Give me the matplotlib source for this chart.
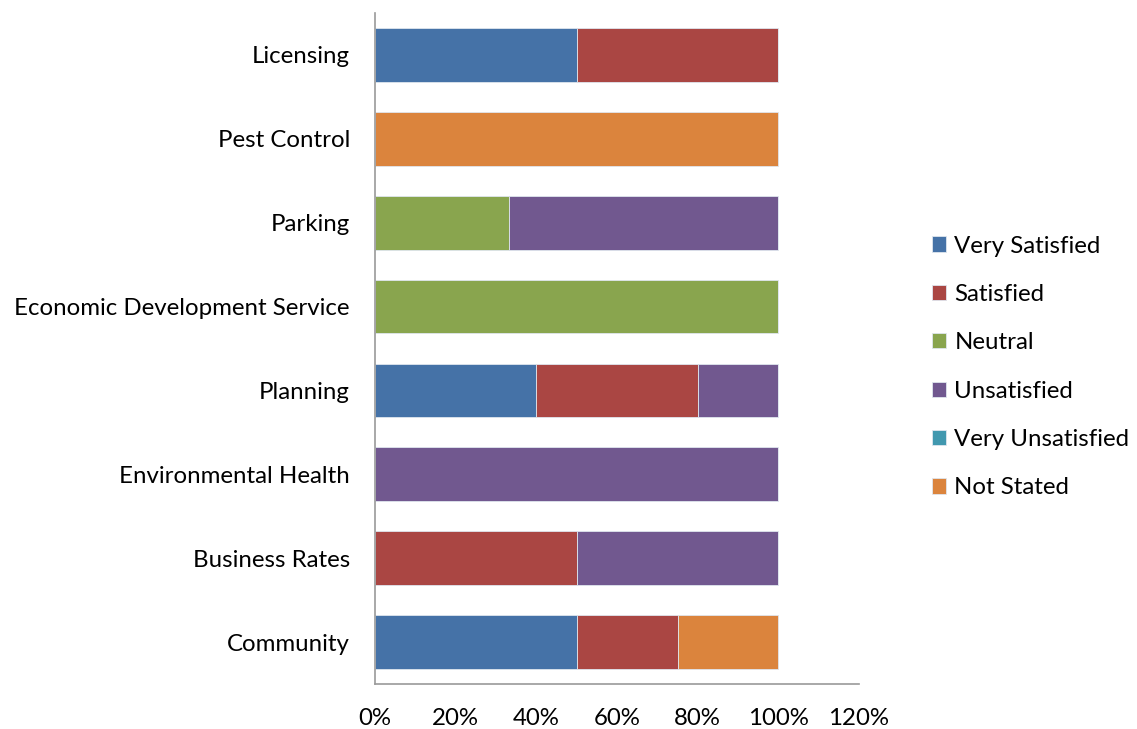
import matplotlib
matplotlib.use("Agg")
import matplotlib.pyplot as plt
import numpy as np
from matplotlib.ticker import FuncFormatter

plt.rcParams['font.family'] = ['Lato', 'DejaVu Sans']

categories = ["Licensing", "Pest Control", "Parking", "Economic Development Service",
              "Planning", "Environmental Health", "Business Rates", "Community"]
series_names = ["Very Satisfied", "Satisfied", "Neutral", "Unsatisfied",
                "Very Unsatisfied", "Not Stated"]
very_satisfied   = [0.5, 0.0, 0.0,   0.0, 0.4, 0.0, 0.0, 0.5]
satisfied        = [0.5, 0.0, 0.0,   0.0, 0.4, 0.0, 0.5, 0.25]
neutral          = [0.0, 0.0, 1/3,   1.0, 0.0, 0.0, 0.0, 0.0]
unsatisfied      = [0.0, 0.0, 2/3,   0.0, 0.2, 1.0, 0.5, 0.0]
very_unsatisfied = [0.0, 0.0, 0.0,   0.0, 0.0, 0.0, 0.0, 0.0]
not_stated       = [0.0, 1.0, 0.0,   0.0, 0.0, 0.0, 0.0, 0.25]
x_ticks = [0, 0.2, 0.4, 0.6, 0.8, 1.0, 1.2]

colors = ["#4572A7", "#AA4643", "#89A54E", "#71588F", "#4198AF", "#DB843D"]
series = [very_satisfied, satisfied, neutral, unsatisfied, very_unsatisfied, not_stated]

fig = plt.figure(figsize=(11.37, 7.29), dpi=100)
ax = fig.add_axes([375/1137, 1-684/729, (859-375)/1137, (684-13)/729])

y = np.arange(len(categories))[::-1]
left = np.zeros(len(categories))
for name, vals, c in zip(series_names, series, colors):
    vals = np.array(vals)
    ax.barh(y, vals, left=left, height=0.64, color=c, label=name,
            edgecolor="#dfe6ee", linewidth=0.6)
    left += vals

ax.set_xlim(0, 1.2)
ax.set_ylim(-0.5, len(categories) - 0.5)
ax.set_yticks(y)
ax.set_yticklabels(categories, fontsize=17.3)
ax.set_xticks(x_ticks)
ax.xaxis.set_major_formatter(FuncFormatter(lambda v, p: f"{v*100:.0f}%"))
ax.tick_params(axis='x', labelsize=17.3, length=0, pad=17)
ax.tick_params(axis='y', length=0, pad=18)
for s in ["top", "right"]:
    ax.spines[s].set_visible(False)
for s in ["left", "bottom"]:
    ax.spines[s].set_color("#9a9a9a")
    ax.spines[s].set_linewidth(1.2)

leg = fig.legend(loc="center left", bbox_to_anchor=(922/1137, 1-367/729), frameon=False,
                 fontsize=17.3, handlelength=0.6, handleheight=0.6, handletextpad=0.35,
                 labelspacing=1.14, borderaxespad=0)

fig.savefig("out.png", dpi=100)
